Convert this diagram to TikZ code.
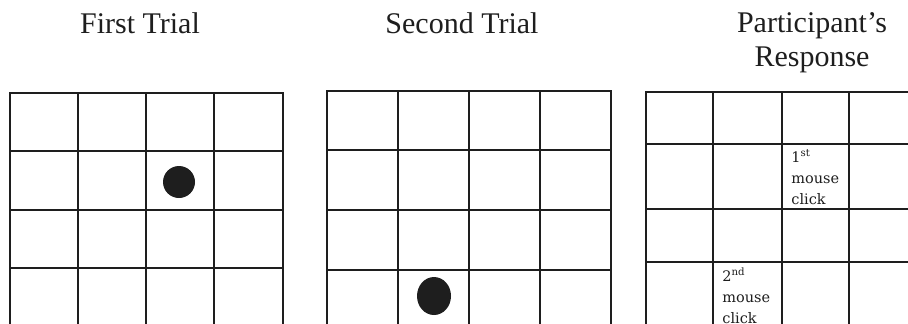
\documentclass[tikz,border=0pt]{standalone}
\usepackage{fontspec}
\setmainfont{Liberation Serif}
\newfontfamily\cellfont{DejaVu Serif}
\usepackage{tikz}
\definecolor{Ink}{HTML}{1E1E1E}
\tikzset{
  gridline/.style={draw=Ink,line width=0.8pt,line cap=rect},
  title/.style={font=\fontsize{15}{17}\selectfont,text=Ink,inner sep=0pt,align=center},
  target/.style={fill=Ink},
  clicknote/.style={font=\cellfont\fontsize{7.25}{10.5}\selectfont,text=Ink,align=left,inner sep=0pt,anchor=north west}
}

\begin{document}
\begin{tikzpicture}[x=0.5pt,y=-0.5pt]
  \useasboundingbox (0,0) rectangle (908,323);
  \clip (0,0) rectangle (908,323);
  % titles
  \node[title,anchor=base] (first) at (140,33) {First Trial};
  \node[title,anchor=base] (second) at (462,33) {Second Trial};
  \node[title,anchor=north] (response) at (812,12.5) {Participant’s\\Response};
  % first trial
  \foreach \x in {10,78,146,214,283} \draw[gridline] (\x,93) -- (\x,330);
  \foreach \y in {93,151,210,268} \draw[gridline] (10,\y) -- (283,\y);
  \fill[target] (179,182) circle[radius=16];
  % second trial
  \foreach \x in {327,398,469,540,611} \draw[gridline] (\x,91) -- (\x,330);
  \foreach \y in {91,150,210,270} \draw[gridline] (327,\y) -- (611,\y);
  \fill[target] (434,296) circle[x radius=17,y radius=19];
  % participant's response
  \foreach \x in {646,713,782,849} \draw[gridline] (\x,92) -- (\x,330);
  \foreach \y in {92,144,209,262} \draw[gridline] (646,\y) -- (920,\y);
  \node[clicknote] (click1) at (791,149) {1\textsuperscript{st}\\mouse\\click};
  \node[clicknote] (click2) at (722,267) {2\textsuperscript{nd}\\mouse\\click};
\end{tikzpicture}
\end{document}
